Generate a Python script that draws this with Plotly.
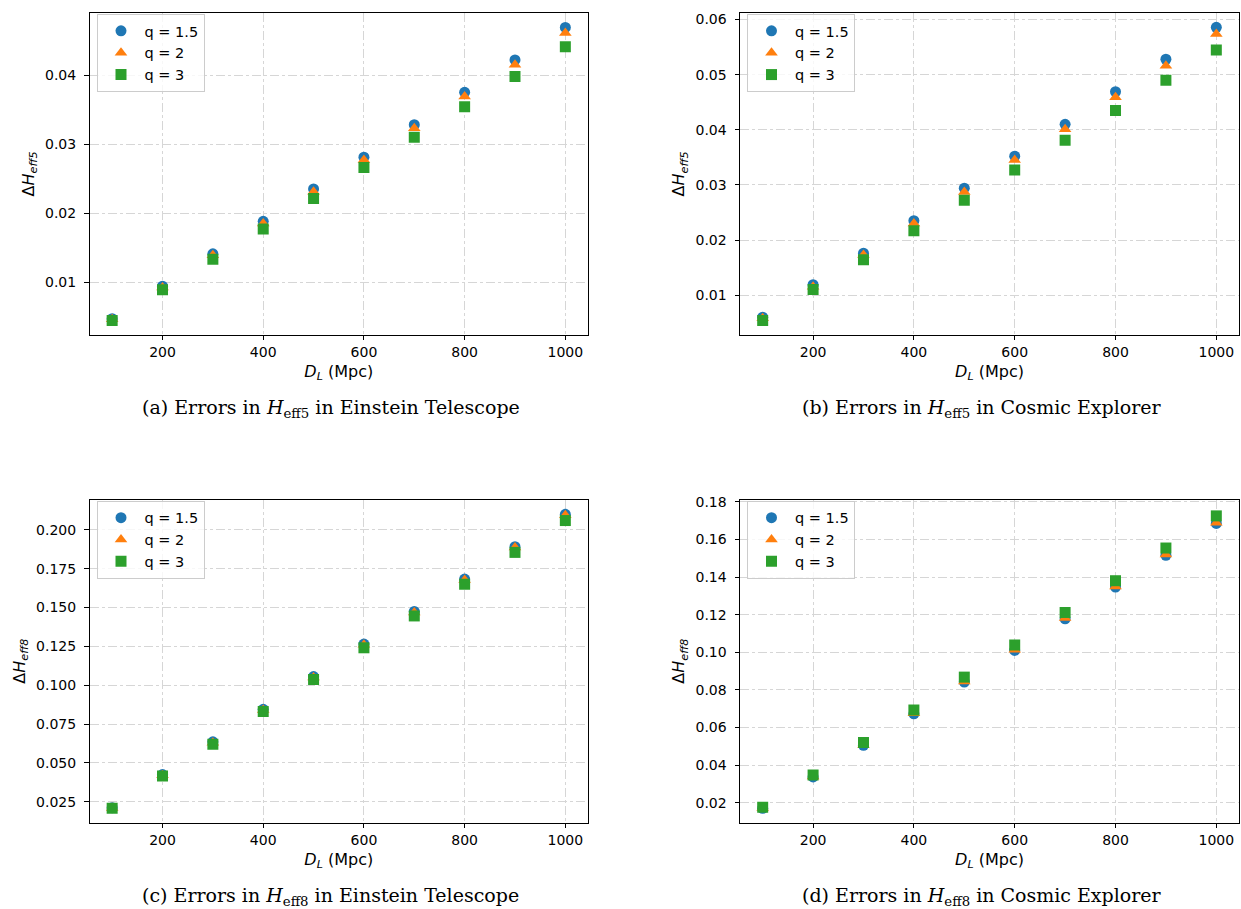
import plotly.graph_objects as go

dl = [100, 200, 300, 400, 500, 600, 700, 800, 900, 1000]

a_q15 = [0.0047, 0.0094, 0.0141, 0.0188, 0.0235, 0.0281, 0.0328, 0.0375, 0.0422, 0.0469]
a_q2 = [0.0046, 0.0092, 0.0139, 0.0185, 0.0231, 0.0277, 0.0323, 0.0369, 0.0415, 0.0461]
a_q3 = [0.00445, 0.0089, 0.0133, 0.0177, 0.0221, 0.0266, 0.0310, 0.0354, 0.0398, 0.0441]

b_q15 = [0.0060, 0.0119, 0.0176, 0.0235, 0.0294, 0.0352, 0.0410, 0.0469, 0.0528, 0.0586]
b_q2 = [0.0058, 0.0115, 0.0173, 0.0230, 0.0287, 0.0345, 0.0401, 0.0459, 0.0516, 0.0574]
b_q3 = [0.0054, 0.0110, 0.0164, 0.0217, 0.0272, 0.0327, 0.0381, 0.0435, 0.0490, 0.0545]

c_q15 = [0.0212, 0.0425, 0.0636, 0.0845, 0.1056, 0.1265, 0.1475, 0.1683, 0.1892, 0.2100]
c_q2 = [0.0210, 0.0420, 0.0630, 0.0840, 0.1050, 0.1260, 0.1468, 0.1677, 0.1886, 0.2094]
c_q3 = [0.0209, 0.0416, 0.0620, 0.0831, 0.1037, 0.1241, 0.1446, 0.1650, 0.1855, 0.2060]

d_q15 = [0.0170, 0.0337, 0.0505, 0.0673, 0.0842, 0.1010, 0.1178, 0.1347, 0.1516, 0.1686]
d_q2 = [0.0171, 0.0339, 0.0507, 0.0676, 0.0845, 0.1013, 0.1182, 0.1350, 0.1520, 0.1690]
d_q3 = [0.0175, 0.0347, 0.0520, 0.0693, 0.0868, 0.1039, 0.1212, 0.1381, 0.1555, 0.1726]

series_names = ["q = 1.5", "q = 2", "q = 3"]
colors = ["#1f77b4", "#ff7f0e", "#2ca02c"]
symbols = ["circle", "triangle-up", "square"]

panels = [
    dict(data=[a_q15, a_q2, a_q3], ylabel="Δ<i>H</i><sub><i>eff5</i></sub>",
         yrange=[0.00236, 0.0490], ytick=[0.01, 0.02, 0.03, 0.04], fmt=".2f",
         caption="(a) Errors in <i>H</i><sub>eff5</sub> in Einstein Telescope"),
    dict(data=[b_q15, b_q2, b_q3], ylabel="Δ<i>H</i><sub><i>eff5</i></sub>",
         yrange=[0.0028, 0.0612], ytick=[0.01, 0.02, 0.03, 0.04, 0.05, 0.06], fmt=".2f",
         caption="(b) Errors in <i>H</i><sub>eff5</sub> in Cosmic Explorer"),
    dict(data=[c_q15, c_q2, c_q3], ylabel="Δ<i>H</i><sub><i>eff8</i></sub>",
         yrange=[0.0116, 0.2194], ytick=[0.025, 0.05, 0.075, 0.1, 0.125, 0.15, 0.175, 0.2], fmt=".3f",
         caption="(c) Errors in <i>H</i><sub>eff8</sub> in Einstein Telescope"),
    dict(data=[d_q15, d_q2, d_q3], ylabel="Δ<i>H</i><sub><i>eff8</i></sub>",
         yrange=[0.0094, 0.1812], ytick=[0.02, 0.04, 0.06, 0.08, 0.10, 0.12, 0.14, 0.16, 0.18], fmt=".2f",
         caption="(d) Errors in <i>H</i><sub>eff8</sub> in Cosmic Explorer"),
]

W, H = 1241, 909
xdoms_px = [(89.5, 588), (740, 1239), (89.5, 588), (740, 1239)]
ydoms_px = [(7, 331), (7, 331), (497, 822), (497, 822)]

fig = go.Figure()
layout = dict(width=W, height=H, margin=dict(l=0, r=0, t=0, b=0),
              plot_bgcolor="white", paper_bgcolor="white",
              font=dict(family="DejaVu Sans", size=14, color="black"),
              annotations=[])

for i, p in enumerate(panels):
    k = i + 1
    xa = "x" if k == 1 else f"x{k}"
    ya = "y" if k == 1 else f"y{k}"
    leg = "legend" if k == 1 else f"legend{k}"
    for j in range(3):
        fig.add_trace(go.Scatter(
            x=dl, y=p["data"][j], mode="markers", name=series_names[j],
            marker=dict(color=colors[j], symbol=symbols[j], size=11, line=dict(width=0)),
            xaxis=xa, yaxis=ya, legend=leg, showlegend=True))
    x0, x1 = xdoms_px[i]
    y0, y1 = ydoms_px[i]
    axis_common = dict(showline=True, mirror=True, linecolor="black", linewidth=1,
                       ticks="outside", ticklen=4.5, tickcolor="black",
                       showgrid=True, gridcolor="#d6d6d6", griddash="dashdot", gridwidth=1,
                       zeroline=False, tickfont=dict(size=14))
    layout["xaxis" if k == 1 else f"xaxis{k}"] = dict(
        domain=[x0 / W, x1 / W], range=[55, 1045],
        tickvals=[200, 400, 600, 800, 1000], anchor=ya,
        title=dict(text="<i>D</i><sub><i>L</i></sub> (Mpc)", font=dict(size=16), standoff=6),
        **axis_common)
    layout["yaxis" if k == 1 else f"yaxis{k}"] = dict(
        domain=[1 - y1 / H, 1 - y0 / H], range=p["yrange"],
        tickvals=p["ytick"], tickformat=p["fmt"], anchor=xa, ticklabelstandoff=5,
        title=dict(text=p["ylabel"], font=dict(size=16), standoff=6),
        **axis_common)
    layout[leg] = dict(x=(x0 + 7) / W, y=1 - (y0 + 1) / H, xanchor="left", yanchor="top",
                       bgcolor="rgba(255,255,255,0.8)", bordercolor="#cccccc", borderwidth=1,
                       font=dict(size=14.5), tracegroupgap=0, itemwidth=37)
    layout["annotations"].append(dict(
        text=p["caption"], xref="paper", yref="paper",
        x=((x0 + x1) / 2 - 8) / W, y=1 - (y1 + 74) / H, xanchor="center", yanchor="middle",
        showarrow=False, font=dict(family="DejaVu Serif", size=19, color="black")))

fig.update_layout(**layout)
fig.write_html("out.html", config={"displayModeBar": False},
               post_script="document.body.style.margin='0px';")
